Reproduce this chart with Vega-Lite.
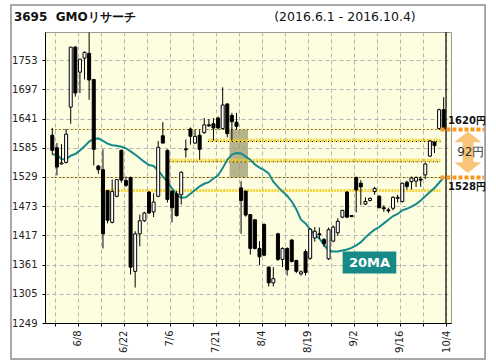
{
"$schema":"https://vega.github.io/schema/vega-lite/v6.json",
"width":406,"height":291,
"autosize":{"type":"none"},
"padding":{"left":45,"top":32,"right":45,"bottom":41},
"background":"white",
"config":{"view":{"stroke":"#999","fill":"#fdfde0"},"font":"DejaVu Sans"},
"resolve":{"axis":{"x":"independent","y":"independent"}},
"datasets":{
"candles":[
{"i":0,"o":1609,"h":1623,"l":1572,"c":1580},{"i":1,"o":1585,"h":1594,"l":1532,"c":1548},{"i":2,"o":1554,"h":1592,"l":1553,"c":1556},{"i":3,"o":1557,"h":1621,"l":1555,"c":1611},{"i":4,"o":1663,"h":1778,"l":1631,"c":1778},{"i":5,"o":1778,"h":1780,"l":1683,"c":1690},{"i":6,"o":1730,"h":1755,"l":1690,"c":1755},{"i":7,"o":1757,"h":1770,"l":1716,"c":1768},{"i":8,"o":1766,"h":1806,"l":1677,"c":1715},{"i":9,"o":1716,"h":1716,"l":1551,"c":1582},
{"i":10,"o":1550,"h":1552,"l":1535,"c":1543},{"i":11,"o":1543,"h":1582,"l":1392,"c":1420},{"i":12,"o":1503,"h":1503,"l":1440,"c":1446},{"i":13,"o":1442,"h":1524,"l":1440,"c":1501},{"i":14,"o":1492,"h":1524,"l":1490,"c":1524},{"i":15,"o":1580,"h":1582,"l":1518,"c":1523},{"i":16,"o":1522,"h":1530,"l":1510,"c":1513},{"i":17,"o":1528,"h":1530,"l":1342,"c":1356},{"i":18,"o":1348,"h":1425,"l":1317,"c":1420},{"i":19,"o":1420,"h":1457,"l":1396,"c":1445},
{"i":20,"o":1445,"h":1462,"l":1443,"c":1460},{"i":21,"o":1500,"h":1502,"l":1458,"c":1460},{"i":22,"o":1462,"h":1498,"l":1452,"c":1481},{"i":23,"o":1492,"h":1598,"l":1490,"c":1586},{"i":24,"o":1608,"h":1634,"l":1594,"c":1594},{"i":25,"o":1580,"h":1582,"l":1480,"c":1486},{"i":26,"o":1502,"h":1503,"l":1442,"c":1470},{"i":27,"o":1497,"h":1502,"l":1453,"c":1455},{"i":28,"o":1495,"h":1540,"l":1476,"c":1538},{"i":29,"o":1583,"h":1601,"l":1566,"c":1581},
{"i":30,"o":1621,"h":1624,"l":1591,"c":1607},{"i":31,"o":1594,"h":1620,"l":1592,"c":1607},{"i":32,"o":1609,"h":1620,"l":1562,"c":1582},{"i":33,"o":1614,"h":1642,"l":1612,"c":1629},{"i":34,"o":1629,"h":1640,"l":1625,"c":1627},{"i":35,"o":1631,"h":1642,"l":1599,"c":1623},{"i":36,"o":1642,"h":1645,"l":1620,"c":1623},{"i":37,"o":1622,"h":1701,"l":1620,"c":1667},{"i":38,"o":1669,"h":1670,"l":1605,"c":1612},{"i":39,"o":1647,"h":1652,"l":1599,"c":1635},
{"i":40,"o":1634,"h":1652,"l":1620,"c":1626},{"i":41,"o":1508,"h":1521,"l":1420,"c":1484},{"i":42,"o":1502,"h":1502,"l":1453,"c":1456},{"i":43,"o":1457,"h":1457,"l":1380,"c":1392},{"i":44,"o":1447,"h":1447,"l":1390,"c":1392},{"i":45,"o":1392,"h":1406,"l":1360,"c":1376},{"i":46,"o":1438,"h":1440,"l":1377,"c":1379},{"i":47,"o":1356,"h":1358,"l":1319,"c":1326},{"i":48,"o":1326,"h":1356,"l":1319,"c":1334},{"i":49,"o":1420,"h":1422,"l":1368,"c":1371},
{"i":50,"o":1371,"h":1394,"l":1356,"c":1392},{"i":51,"o":1392,"h":1394,"l":1340,"c":1351},{"i":52,"o":1408,"h":1410,"l":1365,"c":1367},{"i":53,"o":1369,"h":1370,"l":1345,"c":1348},{"i":54,"o":1343,"h":1350,"l":1340,"c":1347},{"i":55,"o":1386,"h":1390,"l":1340,"c":1346},{"i":56,"o":1373,"h":1431,"l":1370,"c":1429},{"i":57,"o":1412,"h":1433,"l":1405,"c":1425},{"i":58,"o":1420,"h":1432,"l":1410,"c":1418},{"i":59,"o":1409,"h":1412,"l":1395,"c":1401},
{"i":60,"o":1372,"h":1432,"l":1370,"c":1428},{"i":61,"o":1406,"h":1436,"l":1404,"c":1433},{"i":62,"o":1422,"h":1450,"l":1416,"c":1444},{"i":63,"o":1452,"h":1466,"l":1450,"c":1465},{"i":64,"o":1500,"h":1502,"l":1450,"c":1452},{"i":65,"o":1455,"h":1456,"l":1452,"c":1453},{"i":66,"o":1528,"h":1530,"l":1461,"c":1504},{"i":67,"o":1517,"h":1523,"l":1475,"c":1510},{"i":68,"o":1477,"h":1490,"l":1475,"c":1482},{"i":69,"o":1484,"h":1490,"l":1482,"c":1488},
{"i":70,"o":1501,"h":1510,"l":1495,"c":1507},{"i":71,"o":1492,"h":1494,"l":1469,"c":1470},{"i":72,"o":1470,"h":1475,"l":1462,"c":1468},{"i":73,"o":1466,"h":1470,"l":1460,"c":1464},{"i":74,"o":1469,"h":1492,"l":1465,"c":1490},{"i":75,"o":1488,"h":1495,"l":1480,"c":1490},{"i":76,"o":1482,"h":1518,"l":1480,"c":1517},{"i":77,"o":1519,"h":1522,"l":1505,"c":1511},{"i":78,"o":1520,"h":1530,"l":1505,"c":1527},{"i":79,"o":1521,"h":1530,"l":1510,"c":1528},
{"i":80,"o":1525,"h":1530,"l":1510,"c":1523},{"i":81,"o":1533,"h":1556,"l":1525,"c":1554},{"i":82,"o":1569,"h":1600,"l":1568,"c":1598},{"i":83,"o":1596,"h":1597,"l":1575,"c":1589},{"i":84,"o":1622,"h":1660,"l":1620,"c":1658},{"i":85,"o":1658,"h":1682,"l":1620,"c":1621}
],
"ma":[
{"i":0,"m":1572},{"i":1,"m":1572},{"i":2,"m":1563},{"i":3,"m":1563},{"i":4,"m":1570},{"i":5,"m":1573},{"i":6,"m":1580},{"i":7,"m":1588},{"i":8,"m":1597},{"i":9,"m":1602},
{"i":10,"m":1603},{"i":11,"m":1598},{"i":12,"m":1593},{"i":13,"m":1590},{"i":14,"m":1589},{"i":15,"m":1587},{"i":16,"m":1584},{"i":17,"m":1578},{"i":18,"m":1572},{"i":19,"m":1565},
{"i":20,"m":1558},{"i":21,"m":1552},{"i":22,"m":1550},{"i":23,"m":1541},{"i":24,"m":1530},{"i":25,"m":1520},{"i":26,"m":1507},{"i":27,"m":1495},{"i":28,"m":1489},{"i":29,"m":1490},
{"i":30,"m":1497},{"i":31,"m":1504},{"i":32,"m":1511},{"i":33,"m":1516},{"i":34,"m":1519},{"i":35,"m":1526},{"i":36,"m":1532},{"i":37,"m":1546},{"i":38,"m":1562},{"i":39,"m":1572},
{"i":40,"m":1575},{"i":41,"m":1574},{"i":42,"m":1568},{"i":43,"m":1562},{"i":44,"m":1553},{"i":45,"m":1547},{"i":46,"m":1542},{"i":47,"m":1536},{"i":48,"m":1520},{"i":49,"m":1510},
{"i":50,"m":1501},{"i":51,"m":1493},{"i":52,"m":1482},{"i":53,"m":1467},{"i":54,"m":1447},{"i":55,"m":1440},{"i":56,"m":1428},{"i":57,"m":1418},{"i":58,"m":1411},{"i":59,"m":1399},
{"i":60,"m":1388},{"i":61,"m":1386},{"i":62,"m":1386},{"i":63,"m":1388},{"i":64,"m":1390},{"i":65,"m":1393},{"i":66,"m":1398},{"i":67,"m":1404},{"i":68,"m":1413},{"i":69,"m":1421},
{"i":70,"m":1428},{"i":71,"m":1433},{"i":72,"m":1440},{"i":73,"m":1447},{"i":74,"m":1454},{"i":75,"m":1458},{"i":76,"m":1465},{"i":77,"m":1468},{"i":78,"m":1472},{"i":79,"m":1477},
{"i":80,"m":1484},{"i":81,"m":1492},{"i":82,"m":1500},{"i":83,"m":1508},{"i":84,"m":1518},{"i":85,"m":1528}
],
"bands":[{"p":1599.5,"a":33.8,"b":84.3},{"p":1561,"a":25.3,"b":84.3},{"p":1503,"a":10.4,"b":84.3}],
"dots":[{"p":1620,"a":-0.2,"b":84.3},{"p":1528,"a":-0.2,"b":84.3},{"p":1558,"a":25.3,"b":84.3},{"p":1597,"a":33.8,"b":84.3}],
"marks":[{"p":1620},{"p":1528}],
"one":[{}]
},
"layer":[
{"data":{"name":"candles"},"mark":{"type":"rule","strokeOpacity":0},
 "encoding":{"x":{"field":"i","type":"quantitative","scale":{"domain":[-0.5,85.5],"nice":false,"zero":false},
   "axis":{"orient":"bottom","title":null,"values":[0.5,5.5,10.5,15.5,20.5,25.5,30.5,35.5,40.5,45.5,50.5,55.5,60.5,65.5,70.5,75.5,80.5,85.5],
   "labelExpr":"datum.value==5.5?'6/8':datum.value==15.5?'6/22':datum.value==25.5?'7/6':datum.value==35.5?'7/21':datum.value==45.5?'8/4':datum.value==55.5?'8/19':datum.value==65.5?'9/2':datum.value==75.5?'9/16':datum.value==85.5?'10/4':''",
   "labelAngle":270,"labelAlign":"right","labelBaseline":"middle","labelFontSize":10,"labelColor":"#222","labelPadding":4,"tickSize":3,"tickColor":"black","domainColor":"black","grid":true,"gridColor":"#b4b4b4","gridDash":[4,3],"labelOverlap":false,"labelFont":"DejaVu Sans"}},
 "y":{"field":"l","type":"quantitative","scale":{"domain":[1249,1807],"nice":false,"zero":false},
   "axis":{"orient":"left","title":null,"format":"d","values":[1249,1305,1361,1417,1473,1529,1585,1641,1697,1753],"labelFontSize":10,"labelColor":"#222","labelPadding":5,"tickSize":3,"tickColor":"black","domainColor":"black","grid":true,"gridColor":"#b4b4b4","gridDash":[4,3],"labelFont":"DejaVu Sans"}}}},
{"data":{"name":"one"},"mark":{"type":"rect","fill":"none","stroke":"#8c8c8c","strokeWidth":1.5},
 "encoding":{"x":{"datum":-8.97,"type":"quantitative","scale":{"domain":[-0.5,85.5],"nice":false,"zero":false},"axis":null},"x2":{"datum":93.99},
 "y":{"datum":1180,"type":"quantitative","scale":{"domain":[1249,1807],"nice":false,"zero":false},"axis":null},"y2":{"datum":1859}}},
{"data":{"name":"one"},"mark":{"type":"rect","fill":"#9c9a70","opacity":0.75},
 "encoding":{"x":{"datum":38.5,"type":"quantitative","scale":{"domain":[-0.5,85.5],"nice":false,"zero":false},"axis":null},"x2":{"datum":42.5},
 "y":{"datum":1528,"type":"quantitative","scale":{"domain":[1249,1807],"nice":false,"zero":false},"axis":null},"y2":{"datum":1620}}},
{"data":{"name":"bands"},"mark":{"type":"rule","color":"#f2cc1a","strokeWidth":3,"strokeDash":[2,1],"opacity":0.85},
 "encoding":{"x":{"field":"a","type":"quantitative","scale":{"domain":[-0.5,85.5],"nice":false,"zero":false},"axis":null},"x2":{"field":"b"},
 "y":{"field":"p","type":"quantitative","scale":{"domain":[1249,1807],"nice":false,"zero":false},"axis":null}}},
{"data":{"name":"dots"},"mark":{"type":"rule","color":"#f2cc1a","strokeWidth":1.5,"strokeDash":[1,3],"strokeDashOffset":2},
 "encoding":{"x":{"field":"a","type":"quantitative","scale":{"domain":[-0.5,85.5],"nice":false,"zero":false},"axis":null},"x2":{"field":"b"},
 "y":{"field":"p","type":"quantitative","scale":{"domain":[1249,1807],"nice":false,"zero":false},"axis":null}}},
{"data":{"name":"dots"},"mark":{"type":"rule","color":"black","strokeWidth":1,"strokeDash":[1,3]},
 "encoding":{"x":{"field":"a","type":"quantitative","scale":{"domain":[-0.5,85.5],"nice":false,"zero":false},"axis":null},"x2":{"field":"b"},
 "y":{"field":"p","type":"quantitative","scale":{"domain":[1249,1807],"nice":false,"zero":false},"axis":null}}},
{"data":{"name":"ma"},"mark":{"type":"line","color":"#168a8a","strokeWidth":2},
 "encoding":{"x":{"field":"i","type":"quantitative","scale":{"domain":[-0.5,85.5],"nice":false,"zero":false},"axis":null},
 "y":{"field":"m","type":"quantitative","scale":{"domain":[1249,1807],"nice":false,"zero":false},"axis":null}}},
{"data":{"name":"candles"},"mark":{"type":"rule","color":"black","strokeWidth":1},
 "encoding":{"x":{"field":"i","type":"quantitative","scale":{"domain":[-0.5,85.5],"nice":false,"zero":false},"axis":null},
 "y":{"field":"l","type":"quantitative","scale":{"domain":[1249,1807],"nice":false,"zero":false},"axis":null},
 "y2":{"field":"h"}}},
{"data":{"name":"candles"},"mark":{"type":"bar","size":3,"stroke":"black","strokeWidth":1},
 "encoding":{"x":{"field":"i","type":"quantitative","scale":{"domain":[-0.5,85.5],"nice":false,"zero":false},"axis":null},
 "y":{"field":"o","type":"quantitative","scale":{"domain":[1249,1807],"nice":false,"zero":false},"axis":null},"y2":{"field":"c"},
 "fill":{"condition":{"test":"datum.c >= datum.o","value":"white"},"value":"black"}}},
{"data":{"name":"one"},"mark":{"type":"rule","color":"black","strokeWidth":1.2},
 "encoding":{"x":{"datum":85.5,"type":"quantitative","scale":{"domain":[-0.5,85.5],"nice":false,"zero":false},"axis":null}}},
{"data":{"name":"one"},"mark":{"type":"rect","fill":"#178a88"},
 "encoding":{"x":{"datum":63.05,"type":"quantitative","scale":{"domain":[-0.5,85.5],"nice":false,"zero":false},"axis":null},"x2":{"datum":74.7},
 "y":{"datum":1344,"type":"quantitative","scale":{"domain":[1249,1807],"nice":false,"zero":false},"axis":null},"y2":{"datum":1386}}},
{"data":{"name":"one"},"mark":{"type":"text","text":"20MA","color":"white","fontWeight":"bold","fontSize":13,"align":"center","baseline":"middle"},
 "encoding":{"x":{"datum":68.9,"type":"quantitative","scale":{"domain":[-0.5,85.5],"nice":false,"zero":false},"axis":null},
 "y":{"datum":1365,"type":"quantitative","scale":{"domain":[1249,1807],"nice":false,"zero":false},"axis":null}}},
{"data":{"name":"one"},"mark":{"type":"rect","fill":"#f8c478"},
 "encoding":{"x":{"datum":89.1,"type":"quantitative","scale":{"domain":[-0.5,85.5],"nice":false,"zero":false},"axis":null},"x2":{"datum":91.45},
 "y":{"datum":1553,"type":"quantitative","scale":{"domain":[1249,1807],"nice":false,"zero":false},"axis":null},"y2":{"datum":1601}}},
{"data":{"name":"one"},"mark":{"type":"point","filled":true,"color":"#f8c478","opacity":1,"size":729,"shape":"M-1,0.4L0,-0.4L1,0.4Z"},
 "encoding":{"x":{"datum":90.25,"type":"quantitative","scale":{"domain":[-0.5,85.5],"nice":false,"zero":false},"axis":null},
 "y":{"datum":1606,"type":"quantitative","scale":{"domain":[1249,1807],"nice":false,"zero":false},"axis":null}}},
{"data":{"name":"one"},"mark":{"type":"point","filled":true,"color":"#f8c478","opacity":1,"size":729,"shape":"M-1,-0.4L0,0.4L1,-0.4Z"},
 "encoding":{"x":{"datum":90.25,"type":"quantitative","scale":{"domain":[-0.5,85.5],"nice":false,"zero":false},"axis":null},
 "y":{"datum":1547,"type":"quantitative","scale":{"domain":[1249,1807],"nice":false,"zero":false},"axis":null}}},
{"data":{"name":"marks"},"mark":{"type":"rule","color":"#f59a1f","strokeWidth":4,"strokeDash":[4,2]},
 "encoding":{"x":{"datum":84.3,"type":"quantitative","scale":{"domain":[-0.5,85.5],"nice":false,"zero":false},"axis":null},"x2":{"datum":93.8},
 "y":{"field":"p","type":"quantitative","scale":{"domain":[1249,1807],"nice":false,"zero":false},"axis":null}}},
{"data":{"name":"one"},"mark":{"type":"text","text":"1620円","color":"#111","fontWeight":"bold","fontSize":10,"align":"left","baseline":"middle"},
 "encoding":{"x":{"datum":85.95,"type":"quantitative","scale":{"domain":[-0.5,85.5],"nice":false,"zero":false},"axis":null},
 "y":{"datum":1636,"type":"quantitative","scale":{"domain":[1249,1807],"nice":false,"zero":false},"axis":null}}},
{"data":{"name":"one"},"mark":{"type":"text","text":"1528円","color":"#111","fontWeight":"bold","fontSize":10,"align":"left","baseline":"middle"},
 "encoding":{"x":{"datum":85.95,"type":"quantitative","scale":{"domain":[-0.5,85.5],"nice":false,"zero":false},"axis":null},
 "y":{"datum":1509,"type":"quantitative","scale":{"domain":[1249,1807],"nice":false,"zero":false},"axis":null}}},
{"data":{"name":"one"},"mark":{"type":"text","text":"92円","color":"#333","fontSize":12,"align":"center","baseline":"middle"},
 "encoding":{"x":{"datum":90.9,"type":"quantitative","scale":{"domain":[-0.5,85.5],"nice":false,"zero":false},"axis":null},
 "y":{"datum":1576,"type":"quantitative","scale":{"domain":[1249,1807],"nice":false,"zero":false},"axis":null}}},
{"data":{"name":"one"},"mark":{"type":"text","text":"3695\u00a0\u00a0GMOリサーチ","color":"#111","fontWeight":"bold","fontSize":12,"align":"left","baseline":"alphabetic"},
 "encoding":{"x":{"datum":-8.34,"type":"quantitative","scale":{"domain":[-0.5,85.5],"nice":false,"zero":false},"axis":null},
 "y":{"datum":1829,"type":"quantitative","scale":{"domain":[1249,1807],"nice":false,"zero":false},"axis":null}}},
{"data":{"name":"one"},"mark":{"type":"text","text":"(2016.6.1 - 2016.10.4)","color":"#111","fontSize":12.5,"align":"left","baseline":"alphabetic"},
 "encoding":{"x":{"datum":48.2,"type":"quantitative","scale":{"domain":[-0.5,85.5],"nice":false,"zero":false},"axis":null},
 "y":{"datum":1828,"type":"quantitative","scale":{"domain":[1249,1807],"nice":false,"zero":false},"axis":null}}}
]
}
